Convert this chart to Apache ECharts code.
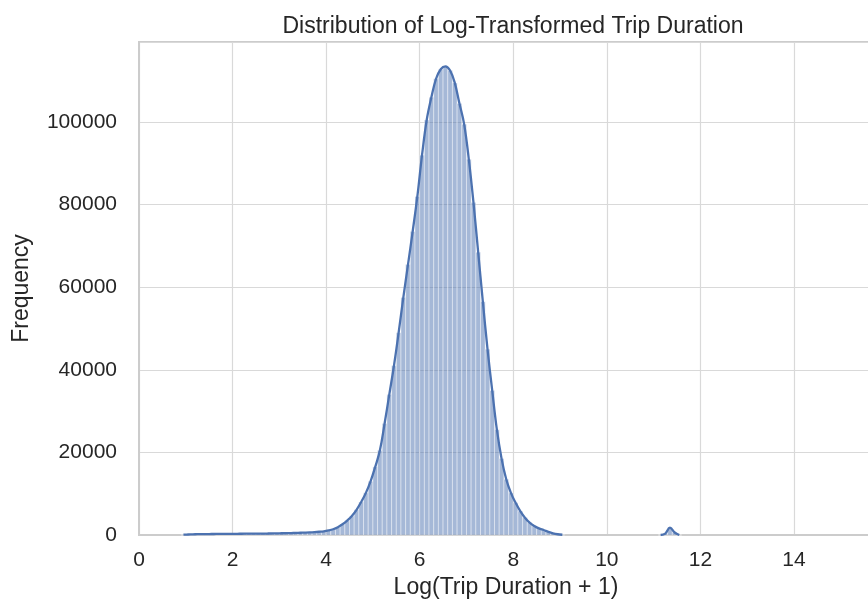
<!DOCTYPE html>
<html>
<head>
<meta charset="utf-8">
<title>Distribution of Log-Transformed Trip Duration</title>
<script src="https://cdn.jsdelivr.net/npm/echarts@6/dist/echarts.min.js"></script>
<style>
  html, body { margin: 0; padding: 0; background: #ffffff; }
  #chart { width: 868px; height: 601px; }
</style>
</head>
<body>
<div id="chart"></div>
<script>
// -- Histogram bins (width 0.1), counts --
const BIN_WIDTH = 0.1;
const mainStart = 0.9;
const mainCounts = [
  80, 120, 160, 190, 210, 230, 240, 250, 260, 270,
  280, 290, 300, 310, 320, 330, 340, 350, 360, 380,
  400, 420, 440, 470, 500, 540, 580, 630, 700, 790,
  900, 1100, 1400, 1900, 2600, 3500, 4600, 6100, 8000, 10200,
  13000, 16500, 20500, 27000, 34000, 41000, 49000, 57500, 65500, 73500,
  82000, 92000, 100500, 106000, 110500, 112800, 113500, 112500, 109500, 104500,
  99500, 91000, 80500, 68500, 56500, 45000, 35000, 25500, 18500, 13500,
  10200, 7800, 5800, 4200, 3000, 2200, 1600, 1200, 750, 400,
  180, 60
];
// small outlier bump near 11.4
const bumpStart = 11.1;
const bumpCounts = [0, 350, 1800, 600, 0];

const xTicks = [0, 2, 4, 6, 8, 10, 12, 14];
const yTicks = [0, 20000, 40000, 60000, 80000, 100000];

const COLORS = {
  bar: 'rgba(76,114,176,0.5)',
  barEdge: 'rgba(255,255,255,0.7)',
  kde: '#4c72b0',
  grid: '#d9d9d9',
  spine: '#cccccc',
  text: '#262626'
};
const FONT = '"Liberation Sans", Arial, sans-serif';

// bins as [left, right, count]; centres for the kde line
function toBins(start, counts) {
  return counts.map((c, i) => {
    const left = +(start + i * BIN_WIDTH).toFixed(2);
    return [left, +(left + BIN_WIDTH).toFixed(2), c];
  });
}
const mainBins = toBins(mainStart, mainCounts);
const bumpBins = toBins(bumpStart, bumpCounts);
const centres = bins => bins.map(b => [+((b[0] + b[1]) / 2).toFixed(3), b[2]]);

function renderBar(params, api) {
  const top = api.coord([api.value(0), api.value(2)]);
  const base = api.coord([api.value(1), 0]);
  return {
    type: 'rect',
    shape: { x: top[0], y: top[1], width: base[0] - top[0], height: base[1] - top[1] },
    style: { fill: COLORS.bar, stroke: COLORS.barEdge, lineWidth: 0.6 }
  };
}

const chart = echarts.init(document.getElementById('chart'), null, { renderer: 'canvas' });

chart.setOption({
  animation: false,
  backgroundColor: '#ffffff',
  title: {
    text: 'Distribution of Log-Transformed Trip Duration',
    left: 508,
    top: 10,
    textAlign: 'center',
    textStyle: { fontFamily: FONT, fontSize: 23, fontWeight: 'normal', color: COLORS.text }
  },
  grid: {
    left: 139, top: 42, right: -5, bottom: 66,
    containLabel: false,
    outerBoundsMode: 'none',
    show: true, borderColor: COLORS.spine, borderWidth: 2
  },
  xAxis: {
    type: 'value',
    min: 0,
    max: 15.69,
    interval: 2,
    name: 'Log(Trip Duration + 1)',
    nameLocation: 'middle',
    nameGap: 40,
    nameTextStyle: { fontFamily: FONT, fontSize: 23, color: COLORS.text },
    axisLine: { show: true, lineStyle: { color: COLORS.spine, width: 2 } },
    axisTick: { show: false },
    axisLabel: {
      fontFamily: FONT, fontSize: 21, color: COLORS.text, margin: 15,
      showMaxLabel: false,
      formatter: v => (xTicks.includes(v) ? String(v) : '')
    },
    splitLine: { show: true, lineStyle: { color: COLORS.grid, width: 1.2 } }
  },
  yAxis: {
    type: 'value',
    min: 0,
    max: 119400,
    interval: 20000,
    name: 'Frequency',
    nameLocation: 'middle',
    nameGap: 106,
    nameTextStyle: { fontFamily: FONT, fontSize: 23, color: COLORS.text },
    axisLine: { show: true, lineStyle: { color: COLORS.spine, width: 2 } },
    axisTick: { show: false },
    axisLabel: {
      fontFamily: FONT, fontSize: 21, color: COLORS.text, margin: 22,
      showMaxLabel: false,
      formatter: v => (yTicks.includes(v) ? String(v) : '')
    },
    splitLine: { show: true, lineStyle: { color: COLORS.grid, width: 1.2 } }
  },
  series: [
    {
      type: 'custom',
      renderItem: renderBar,
      encode: { x: [0, 1], y: 2 },
      data: mainBins.concat(bumpBins),
      z: 2
    },
    {
      type: 'line',
      data: centres(mainBins),
      smooth: 0.4,
      symbol: 'none',
      lineStyle: { color: COLORS.kde, width: 2.3 },
      z: 3
    },
    {
      type: 'line',
      data: centres(bumpBins),
      smooth: 0.4,
      symbol: 'none',
      lineStyle: { color: COLORS.kde, width: 2.3 },
      z: 3
    }
  ]
});

window.addEventListener('resize', () => chart.resize());
</script>
</body>
</html>
